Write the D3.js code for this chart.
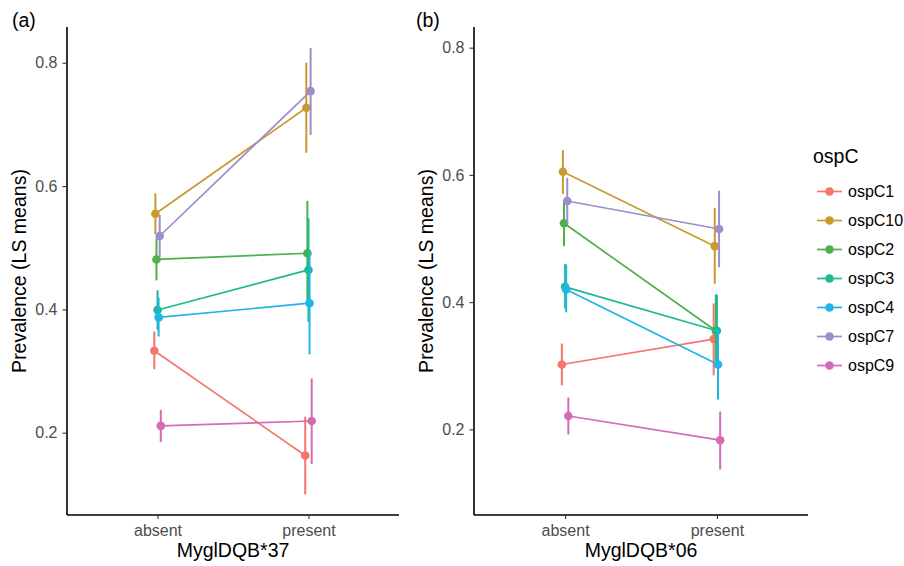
<!DOCTYPE html>
<html><head><meta charset="utf-8">
<script src="https://cdn.jsdelivr.net/npm/d3@7"></script>
<style>body{margin:0;background:#fff}svg{font-family:"Liberation Sans",Arial,sans-serif}</style>
</head><body>
<svg id="chart" width="904" height="566"></svg>
<script>
const groups = ["ospC1","ospC10","ospC2","ospC3","ospC4","ospC7","ospC9"];
const levels = ["absent","present"];
const colors = ["#F5766D","#C99A2E","#4DB04A","#1DB990","#1FB5E8","#9D8DCB","#D56BB4"];
const yTicks = [0.2,0.4,0.6,0.8];

// Panel (a) MyglDQB*37: [absent, present]
const aMean  = [[0.333,0.163],[0.555,0.727],[0.481,0.491],[0.399,0.464],[0.387,0.410],[0.519,0.754],[0.211,0.219]];
const aLower = [[0.303,0.100],[0.522,0.654],[0.447,0.406],[0.367,0.380],[0.356,0.327],[0.485,0.683],[0.185,0.149]];
const aUpper = [[0.364,0.226],[0.588,0.800],[0.515,0.576],[0.431,0.548],[0.419,0.493],[0.553,0.824],[0.237,0.288]];
// Panel (b) MyglDQB*06
const bMean  = [[0.302,0.342],[0.605,0.488],[0.524,0.355],[0.424,0.355],[0.420,0.302],[0.559,0.515],[0.221,0.183]];
const bLower = [[0.269,0.285],[0.570,0.429],[0.488,0.298],[0.390,0.298],[0.384,0.247],[0.523,0.455],[0.192,0.137]];
const bUpper = [[0.335,0.398],[0.639,0.548],[0.558,0.412],[0.460,0.412],[0.459,0.357],[0.595,0.575],[0.250,0.228]];

const panels = [
  {tag:"(a)", tagX:12, xTitle:"MyglDQB*37", mean:aMean, lo:aLower, hi:aUpper, left:67, right:399, yDomain:[0.0665,0.858]},
  {tag:"(b)", tagX:416, xTitle:"MyglDQB*06", mean:bMean, lo:bLower, hi:bUpper, left:474, right:808, yDomain:[0.0654,0.8325]}
];
const plotTop = 27, plotBottom = 515;
const svg = d3.select("#chart");
const dodge = 0.05;

panels.forEach(p => {
  const x = d3.scalePoint().domain(levels).range([p.left, p.right]).padding(0.6);
  const step = x.step();
  const y = d3.scaleLinear().domain(p.yDomain).range([plotBottom, plotTop]);
  const g = svg.append("g");
  const off = i => ((i - (groups.length-1)/2) * dodge/groups.length) * step;

  const ya = g.append("g").attr("transform",`translate(${p.left},0)`)
    .call(d3.axisLeft(y).tickValues(yTicks).tickFormat(d3.format(".1f")).tickSize(4.5).tickPadding(5));
  const xa = g.append("g").attr("transform",`translate(0,${plotBottom})`)
    .call(d3.axisBottom(x).tickSize(4).tickPadding(6));
  [ya,xa].forEach(a=>{
    a.select(".domain").attr("stroke","#000").attr("stroke-width",1.6);
    a.selectAll(".tick line").attr("stroke","#333").attr("stroke-width",1.1);
    a.selectAll(".tick text").attr("fill","#4D4D4D").style("font-size","16px");
  });
  ya.select(".domain").attr("d",`M0,${plotBottom}V${plotTop}`);
  xa.select(".domain").attr("d",`M${p.left},0H${p.right}`);

  g.append("text").attr("x",p.tagX).attr("y",27).text(p.tag).style("font-size","19.5px").attr("fill","#000");
  g.append("text").attr("x",(p.left+p.right)/2).attr("y",557).attr("text-anchor","middle")
    .text(p.xTitle).style("font-size","19.5px").attr("fill","#000");
  g.append("text").attr("transform",`translate(${p.left-41},${(plotTop+plotBottom)/2}) rotate(-90)`)
    .attr("text-anchor","middle").text("Prevalence (LS means)").style("font-size","19.5px").attr("fill","#000");

  groups.forEach((grp,i)=>{
    const pts = levels.map((lv,j)=>({x:x(lv)+off(i), m:p.mean[i][j], lo:p.lo[i][j], hi:p.hi[i][j]}));
    const c = colors[i];
    g.append("path").datum(pts).attr("fill","none").attr("stroke",c).attr("stroke-width",1.7)
      .attr("d", d3.line().x(d=>d.x).y(d=>y(d.m)));
    g.selectAll(null).data(pts).enter().append("line")
      .attr("x1",d=>d.x).attr("x2",d=>d.x).attr("y1",d=>y(d.lo)).attr("y2",d=>y(d.hi))
      .attr("stroke",c).attr("stroke-width",2);
    g.selectAll(null).data(pts).enter().append("circle")
      .attr("cx",d=>d.x).attr("cy",d=>y(d.m)).attr("r",4.3).attr("fill",c);
  });
});

const lg = svg.append("g");
lg.append("text").attr("x",813).attr("y",163).text("ospC").style("font-size","19.5px").attr("fill","#000");
groups.forEach((grp,i)=>{
  const yy = 191.5 + i*29;
  lg.append("line").attr("x1",817).attr("x2",842).attr("y1",yy).attr("y2",yy).attr("stroke",colors[i]).attr("stroke-width",1.7);
  lg.append("circle").attr("cx",829.5).attr("cy",yy).attr("r",4.3).attr("fill",colors[i]);
  lg.append("text").attr("x",848).attr("y",yy+5.5).text(grp).style("font-size","16px").attr("fill","#000");
});
</script>
</body></html>
